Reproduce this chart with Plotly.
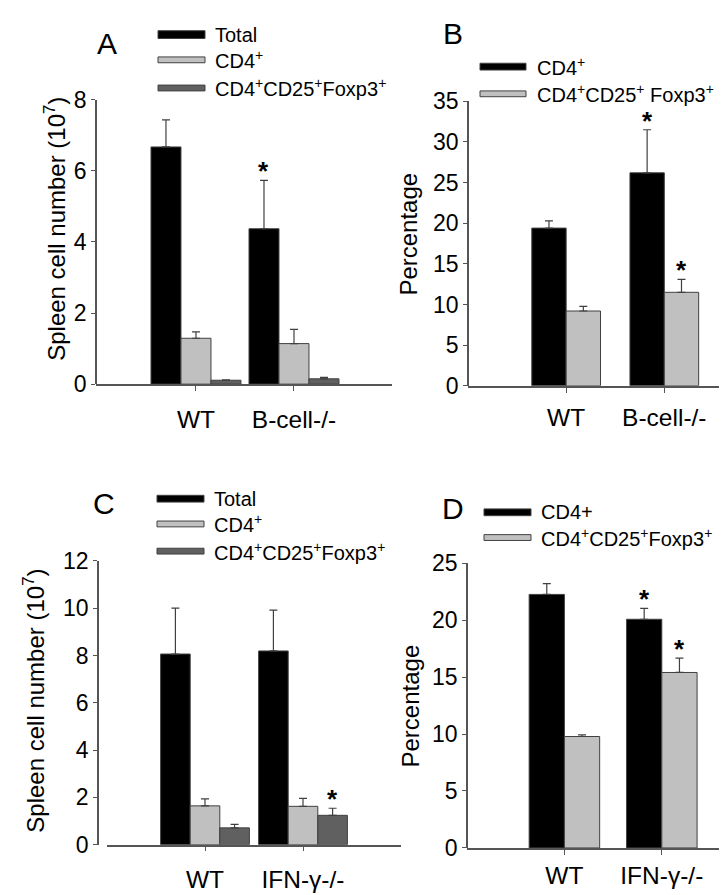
import plotly.graph_objects as go

W, H = 727, 895
FONT = "Liberation Sans, Arial, sans-serif"

BLACK = "#000000"
LIGHT = "#c0c0c0"
DARK = "#606060"
EDGE = "#404040"

# Panel A: spleen cell number, WT vs B-cell-/-
groups_a = ["WT", "B-cell-/-"]
total_a = [6.67, 4.37]
total_a_err = [7.43, 5.73]
cd4_a = [1.29, 1.14]
cd4_a_err = [1.47, 1.54]
treg_a = [0.11, 0.15]
treg_a_err = [0.12, 0.19]

# Panel B: percentages, WT vs B-cell-/-
groups_b = ["WT", "B-cell-/-"]
cd4_b = [19.4, 26.2]
cd4_b_err = [20.3, 31.5]
treg_b = [9.2, 11.5]
treg_b_err = [9.76, 13.1]

# Panel C: spleen cell number, WT vs IFN-γ-/-
groups_c = ["WT", "IFN-γ-/-"]
total_c = [8.06, 8.19]
total_c_err = [10.0, 9.92]
cd4_c = [1.64, 1.62]
cd4_c_err = [1.94, 1.96]
treg_c = [0.71, 1.24]
treg_c_err = [0.86, 1.54]

# Panel D: percentages, WT vs IFN-γ-/-
groups_d = ["WT", "IFN-γ-/-"]
cd4_d = [22.25, 20.07]
cd4_d_err = [23.2, 21.03]
treg_d = [9.78, 15.4]
treg_d_err = [9.92, 16.66]

TREG = "CD4<sup>+</sup>CD25<sup>+</sup>Foxp3<sup>+</sup>"


def px(x):
    return x / W


def py(y):
    return 1 - y / H


fig = go.Figure()


def add_bars(xa, ya, cats, vals, tops, color, off, width):
    fig.add_trace(go.Bar(
        x=cats, y=vals, xaxis=xa, yaxis=ya,
        marker=dict(color=color, line=dict(color=EDGE, width=1)),
        width=width, offset=off,
        error_y=dict(type="data", symmetric=False,
                     array=[t - v for t, v in zip(tops, vals)],
                     arrayminus=[0] * len(vals),
                     color="#404040", thickness=1.2, width=4),
        showlegend=False))


# A
wa = 0.306
add_bars("x", "y", groups_a, total_a, total_a_err, BLACK, -1.5 * wa, wa)
add_bars("x", "y", groups_a, cd4_a, cd4_a_err, LIGHT, -0.5 * wa, wa)
add_bars("x", "y", groups_a, treg_a, treg_a_err, DARK, 0.5 * wa, wa)
# B
wb = 0.35
add_bars("x2", "y2", groups_b, cd4_b, cd4_b_err, BLACK, -wb, wb)
add_bars("x2", "y2", groups_b, treg_b, treg_b_err, LIGHT, 0, wb)
# C
wc = 0.302
add_bars("x3", "y3", groups_c, total_c, total_c_err, BLACK, -1.5 * wc, wc)
add_bars("x3", "y3", groups_c, cd4_c, cd4_c_err, LIGHT, -0.5 * wc, wc)
add_bars("x3", "y3", groups_c, treg_c, treg_c_err, DARK, 0.5 * wc, wc)
# D
wd = 0.362
add_bars("x4", "y4", groups_d, cd4_d, cd4_d_err, BLACK, -wd, wd)
add_bars("x4", "y4", groups_d, treg_d, treg_d_err, LIGHT, 0, wd)

axis_common = dict(showline=True, linecolor="#555555", linewidth=1.5,
                   ticks="outside", tickcolor="#555555", showgrid=False,
                   zeroline=False, fixedrange=True)

panels = [
    # xaxis, yaxis, x-axis pixel span, y-axis x position, y span (top, bottom),
    # yrange, dtick, xrange, x tick label standoff
    ("x", "y", (88, 384), 88, (81, 374), [0, 8], 2, [-1.02, 2.0], 8),
    ("x2", "y2", (460, 726), 460, (82.7, 375.7), [0, 35], 5, [-1.0, 1.71], 4),
    ("x3", "y3", (99, 393), 90, (556, 848.3), [0, 12], 2, [-1.0, 2.0], 7),
    ("x4", "y4", (459, 722), 459, (558.3, 851.7), [0, 25], 5, [-1.0, 1.70], 0),
]

layout = {}
for xa, ya, (x0, x1), yx, (yt, yb), yr, dt, xr, so in panels:
    xkey = "xaxis" + xa[1:]
    ykey = "yaxis" + ya[1:]
    layout[xkey] = dict(axis_common, domain=[px(x0), px(x1)], anchor=ya,
                        type="category", range=xr, ticklen=5,
                        ticklabelstandoff=so,
                        tickfont=dict(family=FONT, size=24.5, color="#000"))
    layout[ykey] = dict(axis_common, domain=[py(yb), py(yt)],
                        anchor="free", position=px(yx),
                        range=yr, dtick=dt, ticklen=4,
                        tickfont=dict(family=FONT, size=23, color="#000"))

annotations = []
shapes = []


def text(x, y, s, size, xanchor="center", **kw):
    annotations.append(dict(x=px(x), y=py(y), xref="paper", yref="paper",
                            text=s, showarrow=False,
                            xanchor=xanchor, yanchor="middle",
                            font=dict(family=FONT, size=size, color="#000"),
                            **kw))


# panel letters
text(99, 23, "A", 30)
text(445, 13, "B", 30)
text(96, 497, "C", 30)
text(445, 502, "D", 30)

# axis titles
text(47, 214, "Spleen cell number (10<sup>7</sup>)", 24, textangle=-90)
text(401, 220, "Percentage", 24, textangle=-90)
text(26, 700, "Spleen cell number (10<sup>7</sup>)", 24, textangle=-90)
text(402, 706, "Percentage", 24, textangle=-90)


def legend(x0, x1, tx, rows):
    for yc, h, color, label in rows:
        shapes.append(dict(type="rect", xref="paper", yref="paper",
                           x0=px(x0), x1=px(x1), y0=py(yc + h / 2), y1=py(yc - h / 2),
                           fillcolor=color, line=dict(color=EDGE, width=1)))
        text(tx, yc, label, 20, xanchor="left")


legend(150, 197, 205, [(14, 8, BLACK, "Total"),
                       (40, 6, LIGHT, "CD4<sup>+</sup>"),
                       (69, 6, DARK, TREG)])
legend(472, 518, 527, [(47, 7, BLACK, "CD4<sup>+</sup>"),
                       (75, 6, LIGHT, "CD4<sup>+</sup>CD25<sup>+</sup> Foxp3<sup>+</sup>")])
legend(149, 196, 204, [(492, 7, BLACK, "Total"),
                       (518, 6, LIGHT, "CD4<sup>+</sup>"),
                       (546, 6, DARK, TREG)])
legend(476, 523, 531, [(506, 7, BLACK, "CD4+"),
                       (532, 6, LIGHT, TREG)])


# significance asterisks, placed above the error bar of the marked bar
def star(xa, ya, idx, offset, top):
    annotations.append(dict(x=idx + offset, y=top, xref=xa, yref=ya,
                            text="<b>*</b>", showarrow=False, yanchor="bottom",
                            xanchor="center", yshift=-8,
                            font=dict(family=FONT, size=26, color="#000")))


star("x", "y", 1, -wa, total_a_err[1])
star("x2", "y2", 1, -wb / 2, cd4_b_err[1])
star("x2", "y2", 1, wb / 2, treg_b_err[1])
star("x3", "y3", 1, wc, treg_c_err[1])
star("x4", "y4", 1, -wd / 2, cd4_d_err[1])
star("x4", "y4", 1, wd / 2, treg_d_err[1])

fig.update_layout(
    width=W, height=H,
    margin=dict(l=0, r=0, t=0, b=0),
    paper_bgcolor="white", plot_bgcolor="white",
    barmode="overlay",
    showlegend=False,
    annotations=annotations,
    shapes=shapes,
    font=dict(family=FONT, color="#000"),
    **layout,
)

fig.write_html("out.html")
